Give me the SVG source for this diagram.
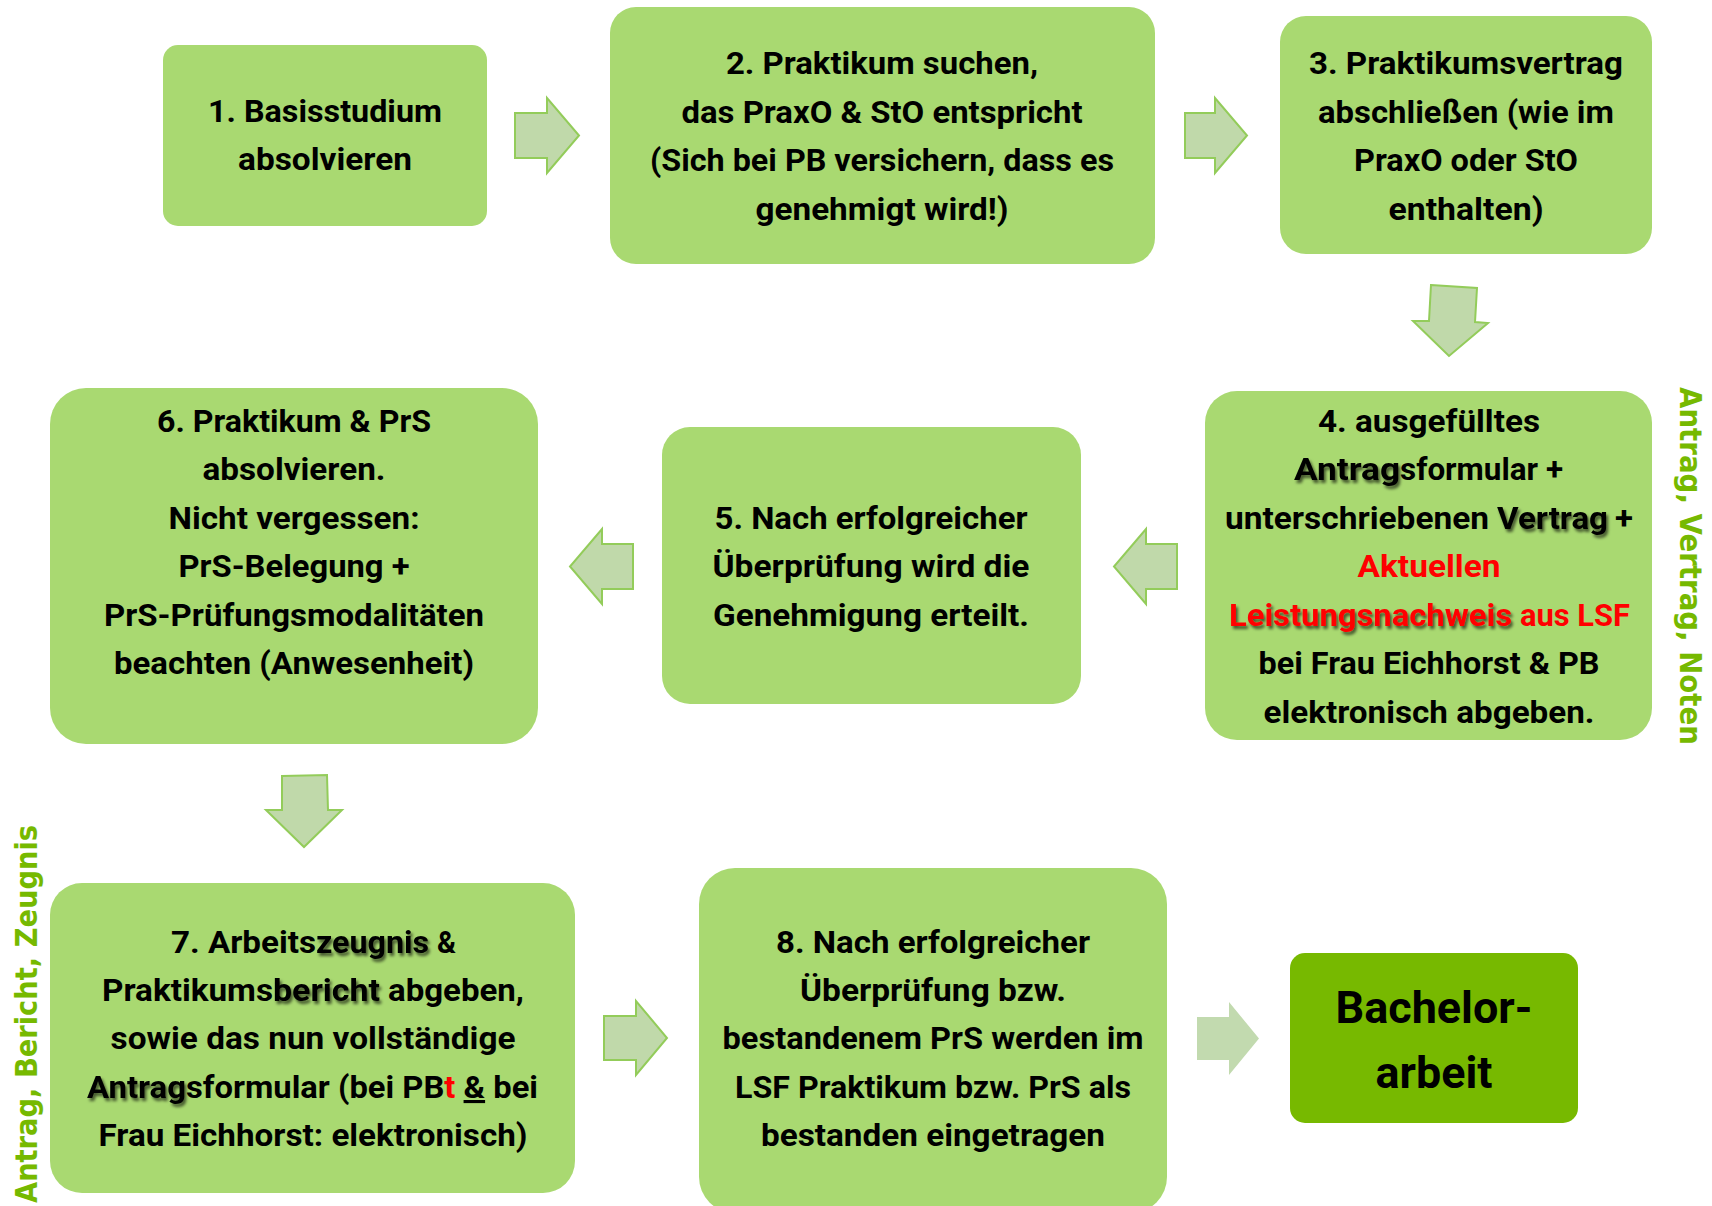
<svg xmlns="http://www.w3.org/2000/svg" width="1712" height="1206" viewBox="0 0 1712 1206">
<style>
.box{fill:#A9D971}
.final{fill:#77B900}
.arr{fill:#C0D9AA;stroke:#93CC5A;stroke-width:2}
.arr2{fill:#C2DAAF}
text{font-family:Roboto,"Liberation Sans",sans-serif;font-weight:700;font-size:31px;fill:#000}
.c{text-anchor:middle}
.red{fill:#FF0000}
.side{font-family:"DejaVu Sans","Liberation Sans",sans-serif;font-weight:700;font-size:30px;fill:#76B900}
.ba{font-size:44px}
</style>
<defs>
<filter id="sh" x="-10%" y="-40%" width="130%" height="190%">
<feDropShadow dx="2" dy="3" stdDeviation="1.6" flood-color="#000" flood-opacity="0.6"/>
</filter>
</defs>
<rect width="1712" height="1206" fill="#FFFFFF"/>

<g id="connectors">
<polygon class="arr" points="515,113 547,113 547,98 579,135.5 547,173 547,158 515,158"/>
<polygon class="arr" points="1185,113 1215,113 1215,98 1247,135.5 1215,173 1215,158 1185,158"/>
<polygon class="arr" points="1431,285 1477,288 1475,322 1488,323 1449,356 1413,321 1429,321"/>
<polygon class="arr" points="1177,544 1146,544 1146,529 1114,566.5 1146,604 1146,589 1177,589"/>
<polygon class="arr" points="633,544 602,544 602,529 570,566.5 602,604 602,589 633,589"/>
<polygon class="arr" points="282,776 327,775 328,810 342,810 304,847 266,810 282,810"/>
<polygon class="arr" points="604,1016 636,1016 636,1001 667,1038 636,1075 636,1060 604,1060"/>
<polygon class="arr2" points="1197,1017 1229,1017 1229,1002 1259,1038.5 1229,1075 1229,1060 1197,1060"/>
</g>

<g id="n1">
<rect class="box" x="163" y="45" width="324" height="181" rx="15"/>
<text class="c" x="325" y="122" textLength="234" lengthAdjust="spacingAndGlyphs">1. Basisstudium</text>
<text class="c" x="325" y="170" textLength="174" lengthAdjust="spacingAndGlyphs">absolvieren</text>
</g>

<g id="n2">
<rect class="box" x="610" y="7" width="545" height="257" rx="26"/>
<text class="c" x="882" y="74" textLength="312" lengthAdjust="spacingAndGlyphs">2. Praktikum suchen,</text>
<text class="c" x="882" y="123" textLength="401" lengthAdjust="spacingAndGlyphs">das PraxO &amp; StO entspricht</text>
<text class="c" x="882" y="171" textLength="464" lengthAdjust="spacingAndGlyphs">(Sich bei PB versichern, dass es</text>
<text class="c" x="882" y="220" textLength="253" lengthAdjust="spacingAndGlyphs">genehmigt wird!)</text>
</g>

<g id="n3">
<rect class="box" x="1280" y="16" width="372" height="238" rx="26"/>
<text class="c" x="1466" y="74" textLength="314" lengthAdjust="spacingAndGlyphs">3. Praktikumsvertrag</text>
<text class="c" x="1466" y="123" textLength="296" lengthAdjust="spacingAndGlyphs">abschließen (wie im</text>
<text class="c" x="1466" y="171" textLength="224" lengthAdjust="spacingAndGlyphs">PraxO oder StO</text>
<text class="c" x="1466" y="220" textLength="155" lengthAdjust="spacingAndGlyphs">enthalten)</text>
</g>

<g id="n4">
<rect class="box" x="1205" y="391" width="447" height="349" rx="32"/>
<text class="c" x="1429" y="432" textLength="222" lengthAdjust="spacingAndGlyphs">4. ausgefülltes</text>
<text x="1294" y="480" textLength="106" lengthAdjust="spacingAndGlyphs" filter="url(#sh)">Antrag</text>
<text x="1400" y="480" textLength="163" lengthAdjust="spacingAndGlyphs">sformular +</text>
<text x="1225" y="529" textLength="264" lengthAdjust="spacingAndGlyphs">unterschriebenen</text>
<text x="1497" y="529" textLength="111" lengthAdjust="spacingAndGlyphs" filter="url(#sh)">Vertrag</text>
<text x="1615" y="529" textLength="18" lengthAdjust="spacingAndGlyphs">+</text>
<text class="c red" x="1429" y="577" textLength="143" lengthAdjust="spacingAndGlyphs">Aktuellen</text>
<text class="red" x="1229" y="626" textLength="283" lengthAdjust="spacingAndGlyphs" filter="url(#sh)">Leistungsnachweis</text>
<text class="red" x="1520" y="626" textLength="110" lengthAdjust="spacingAndGlyphs">aus LSF</text>
<text class="c" x="1429" y="674" textLength="341" lengthAdjust="spacingAndGlyphs">bei Frau Eichhorst &amp; PB</text>
<text class="c" x="1429" y="723" textLength="331" lengthAdjust="spacingAndGlyphs">elektronisch abgeben.</text>
</g>

<g id="n5">
<rect class="box" x="662" y="427" width="419" height="277" rx="28"/>
<text class="c" x="871" y="529" textLength="313" lengthAdjust="spacingAndGlyphs">5. Nach erfolgreicher</text>
<text class="c" x="871" y="577" textLength="317" lengthAdjust="spacingAndGlyphs">Überprüfung wird die</text>
<text class="c" x="871" y="626" textLength="316" lengthAdjust="spacingAndGlyphs">Genehmigung erteilt.</text>
</g>

<g id="n6">
<rect class="box" x="50" y="388" width="488" height="356" rx="36"/>
<text class="c" x="294" y="432" textLength="274" lengthAdjust="spacingAndGlyphs">6. Praktikum &amp; PrS</text>
<text class="c" x="294" y="480" textLength="183" lengthAdjust="spacingAndGlyphs">absolvieren.</text>
<text class="c" x="294" y="529" textLength="251" lengthAdjust="spacingAndGlyphs">Nicht vergessen:</text>
<text class="c" x="294" y="577" textLength="231" lengthAdjust="spacingAndGlyphs">PrS-Belegung +</text>
<text class="c" x="294" y="626" textLength="380" lengthAdjust="spacingAndGlyphs">PrS-Prüfungsmodalitäten</text>
<text class="c" x="294" y="674" textLength="360" lengthAdjust="spacingAndGlyphs">beachten (Anwesenheit)</text>
</g>

<g id="n7">
<rect class="box" x="50" y="883" width="525" height="310" rx="32"/>
<text x="171" y="953" textLength="145" lengthAdjust="spacingAndGlyphs">7. Arbeits</text>
<text x="316" y="953" textLength="113" lengthAdjust="spacingAndGlyphs" filter="url(#sh)">zeugnis</text>
<text x="437" y="953" textLength="19" lengthAdjust="spacingAndGlyphs">&amp;</text>
<text x="102" y="1001" textLength="171" lengthAdjust="spacingAndGlyphs">Praktikums</text>
<text x="273" y="1001" textLength="107" lengthAdjust="spacingAndGlyphs" filter="url(#sh)">bericht</text>
<text x="388" y="1001" textLength="136" lengthAdjust="spacingAndGlyphs">abgeben,</text>
<text class="c" x="313" y="1049" textLength="405" lengthAdjust="spacingAndGlyphs">sowie das nun vollständige</text>
<text x="87" y="1098" textLength="99" lengthAdjust="spacingAndGlyphs" filter="url(#sh)">Antrag</text>
<text x="186" y="1098" textLength="352" lengthAdjust="spacingAndGlyphs">sformular (bei PB<tspan class="red">t</tspan> <tspan text-decoration="underline">&amp;</tspan> bei</text>
<text class="c" x="313" y="1146" textLength="429" lengthAdjust="spacingAndGlyphs">Frau Eichhorst: elektronisch)</text>
</g>

<g id="n8">
<rect class="box" x="699" y="868" width="468" height="345" rx="36"/>
<text class="c" x="933" y="953" textLength="314" lengthAdjust="spacingAndGlyphs">8. Nach erfolgreicher</text>
<text class="c" x="933" y="1001" textLength="266" lengthAdjust="spacingAndGlyphs">Überprüfung bzw.</text>
<text class="c" x="933" y="1049" textLength="421" lengthAdjust="spacingAndGlyphs">bestandenem PrS werden im</text>
<text class="c" x="933" y="1098" textLength="396" lengthAdjust="spacingAndGlyphs">LSF Praktikum bzw. PrS als</text>
<text class="c" x="933" y="1146" textLength="344" lengthAdjust="spacingAndGlyphs">bestanden eingetragen</text>
</g>

<g id="n9">
<rect class="final" x="1290" y="953" width="288" height="170" rx="15"/>
<text class="c ba" x="1434" y="1023" textLength="197" lengthAdjust="spacingAndGlyphs">Bachelor-</text>
<text class="c ba" x="1434" y="1088" textLength="117" lengthAdjust="spacingAndGlyphs">arbeit</text>
</g>

<g id="label-right">
<text class="side" transform="translate(1680,387) rotate(90)" textLength="358" lengthAdjust="spacingAndGlyphs">Antrag, Vertrag, Noten</text>
</g>
<g id="label-left">
<text class="side" transform="translate(37,1203) rotate(-90)" textLength="378" lengthAdjust="spacingAndGlyphs">Antrag, Bericht, Zeugnis</text>
</g>
</svg>
